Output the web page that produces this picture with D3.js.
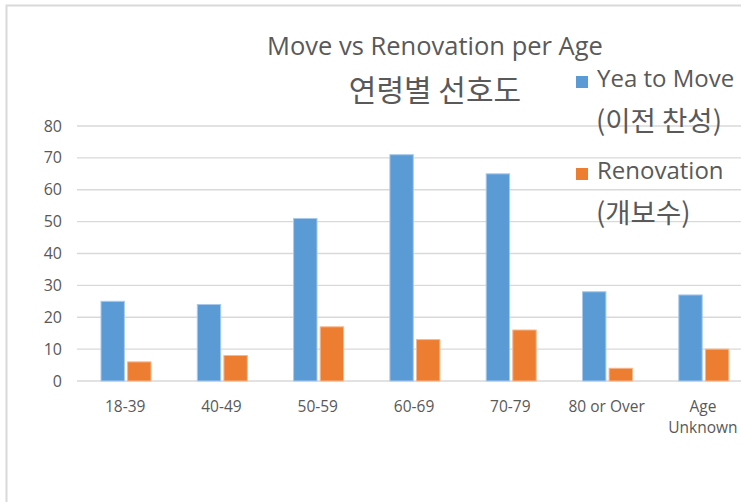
<!DOCTYPE html>
<html>
<head>
<meta charset="utf-8">
<script src="https://d3js.org/d3.v7.min.js"></script>
<style>
  body { margin: 0; background: #fff; }
  svg { display: block; }
</style>
</head>
<body>
<svg id="chart" width="741" height="502"></svg>
<script>
// data
const ageGroups = ["18-39", "40-49", "50-59", "60-69", "70-79", "80 or Over", "Age Unknown"];
const moveValues = [25, 24, 51, 71, 65, 28, 27];
const renovationValues = [6, 8, 17, 13, 16, 4, 10];
const seriesNames = ["Yea to Move", "Renovation"];
const seriesSubNames = ["(이전 찬성)", "(개보수)"];
const yTicks = [0, 10, 20, 30, 40, 50, 60, 70, 80];

const latin = "'Open Sans', sans-serif";
const korean = "'Noto Sans CJK KR', sans-serif";
const textColor = "#595959";
const colors = ["#5b9bd5", "#ed7d31"];

const svg = d3.select("#chart");

// outer frame of the chart area (only left and top edges are visible)
svg.append("path")
  .attr("d", "M6.5,502 V5.5 H741")
  .attr("fill", "none")
  .attr("stroke", "#d9d9d9")
  .attr("stroke-width", 2);

const margin = {top: 126, left: 77, bottom: 381};
const bandW = 96.3;

const x = d3.scaleBand()
  .domain(ageGroups)
  .range([margin.left, margin.left + bandW * ageGroups.length])
  .paddingInner(0).paddingOuter(0);

const y = d3.scaleLinear()
  .domain([0, 80])
  .range([margin.bottom, margin.top]);

const xSub = d3.scaleBand()
  .domain(seriesNames)
  .range([24, 24 + 50])
  .paddingInner(6 / 50);

// gridlines
svg.append("g")
  .selectAll("line")
  .data(yTicks)
  .join("line")
    .attr("x1", margin.left)
    .attr("x2", 741)
    .attr("y1", d => y(d))
    .attr("y2", d => y(d))
    .attr("stroke", "#d9d9d9")
    .attr("stroke-width", 1.3);

// y tick labels
svg.append("g")
  .selectAll("text")
  .data(yTicks)
  .join("text")
    .attr("x", 62)
    .attr("y", d => y(d))
    .attr("dy", "0.35em")
    .attr("text-anchor", "end")
    .style("font-family", latin)
    .style("font-size", "16px")
    .style("fill", textColor)
    .text(d => d);

// bars
const rows = ageGroups.map((g, i) => ({group: g, values: [moveValues[i], renovationValues[i]]}));
const groups = svg.append("g")
  .selectAll("g")
  .data(rows)
  .join("g")
    .attr("transform", d => "translate(" + x(d.group) + ",0)");

groups.selectAll("rect")
  .data(d => d.values.map((v, k) => ({name: seriesNames[k], value: v, k: k})))
  .join("rect")
    .attr("x", d => xSub(d.name))
    .attr("width", xSub.bandwidth())
    .attr("y", d => y(d.value))
    .attr("height", d => y(0) - y(d.value))
    .attr("fill", d => colors[d.k])
    .attr("stroke", d => d.k === 0 ? "#a9c9ec" : "#f6b88f")
    .attr("stroke-width", 1);

// x labels
svg.append("g")
  .selectAll("text")
  .data(ageGroups)
  .join("text")
    .attr("x", d => x(d) + x.bandwidth() / 2)
    .attr("y", 407)
    .attr("text-anchor", "middle")
    .style("font-family", latin)
    .style("font-size", "15.5px")
    .style("fill", textColor)
    .each(function(d) {
      const parts = d === "Age Unknown" ? ["Age", "Unknown"] : [d];
      d3.select(this).selectAll("tspan")
        .data(parts)
        .join("tspan")
          .attr("x", x(d) + x.bandwidth() / 2)
          .attr("dy", (p, i) => i === 0 ? "0.35em" : "1.35em")
          .text(p => p);
    });

// titles
svg.append("text")
  .attr("x", 435)
  .attr("y", 55)
  .attr("text-anchor", "middle")
  .style("font-family", latin)
  .style("font-size", "25.5px")
  .style("fill", textColor)
  .text("Move vs Renovation per Age");

svg.append("text")
  .attr("x", 435)
  .attr("y", 90)
  .attr("dy", "0.35em")
  .attr("text-anchor", "middle")
  .style("font-family", korean)
  .style("font-size", "30px")
  .style("fill", textColor)
  .text("연령별 선호도");

// legend
const legendY = [87, 179];
const legend = svg.append("g")
  .selectAll("g")
  .data(seriesNames)
  .join("g")
    .attr("transform", (d, i) => "translate(576," + legendY[i] + ")");

legend.append("rect")
  .attr("x", 0)
  .attr("y", -11)
  .attr("width", 12)
  .attr("height", 12)
  .attr("fill", (d, i) => colors[i]);

legend.append("text")
  .attr("x", 21)
  .attr("y", 0)
  .style("font-family", latin)
  .style("font-size", "24px")
  .style("fill", textColor)
  .text(d => d);

legend.append("text")
  .attr("x", 20)
  .attr("y", 34)
  .attr("dy", "0.35em")
  .style("font-family", korean)
  .style("font-size", "27.5px")
  .style("fill", textColor)
  .text((d, i) => seriesSubNames[i]);
</script>
</body>
</html>
